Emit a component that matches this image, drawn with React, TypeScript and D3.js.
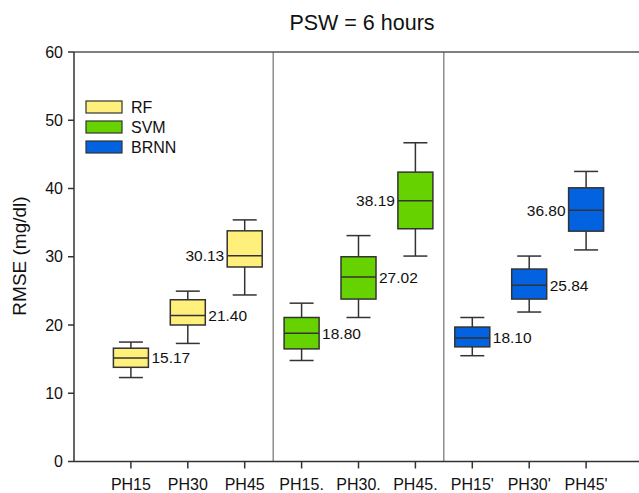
import React from "react";
import * as d3 from "d3";

const categories = ["PH15", "PH30", "PH45", "PH15.", "PH30.", "PH45.", "PH15'", "PH30'", "PH45'"];
const models = ["RF", "RF", "RF", "SVM", "SVM", "SVM", "BRNN", "BRNN", "BRNN"];
const whiskerLow = [12.3, 17.3, 24.4, 14.8, 21.1, 30.1, 15.5, 21.9, 31.0];
const q1 = [13.8, 20.0, 28.5, 16.5, 23.8, 34.1, 16.8, 23.8, 33.75];
const medians = [15.17, 21.4, 30.13, 18.8, 27.02, 38.19, 18.1, 25.84, 36.8];
const q3 = [16.6, 23.7, 33.8, 21.1, 30.0, 42.4, 19.7, 28.2, 40.1];
const whiskerHigh = [17.5, 24.96, 35.4, 23.2, 33.1, 46.7, 21.1, 30.1, 42.5];
const labelSide = ["right", "right", "left", "right", "right", "left", "right", "right", "left"];
const legendLabels = ["RF", "SVM", "BRNN"];
const yTicks = [0, 10, 20, 30, 40, 50, 60];

const colors: Record<string, string> = { RF: "#FFF07C", SVM: "#66D200", BRNN: "#0362DF" };

export default function App() {
  const W = 639, H = 493;
  const left = 74, top = 52, bottom = 461.5, right = 643;
  const x = d3.scaleLinear().domain([-1, 9]).range([left, right]);
  const y = d3.scaleLinear().domain([0, 60]).range([bottom, top]);
  const boxW = 35, capW = 24;
  const font = "Arial, 'Liberation Sans', sans-serif";
  const stroke = "#333";

  return (
    <svg width={W} height={H} style={{ position: "absolute", left: 0, top: 0, background: "#fff" }}>
      <text x={362} y={30} textAnchor="middle" fontFamily={font} fontSize={21.5} fill="#111">PSW = 6 hours</text>
      <text transform={`translate(26,256) rotate(-90)`} textAnchor="middle" fontFamily={font} fontSize={19} fill="#111">RMSE (mg/dl)</text>

      {[2.5, 5.5].map((d) => (
        <line key={d} x1={x(d)} x2={x(d)} y1={top} y2={bottom} stroke="#555" strokeWidth={1} />
      ))}

      <line x1={left} x2={W} y1={top} y2={top} stroke="#555" strokeWidth={1.5} />
      <line x1={left} x2={left} y1={top} y2={bottom} stroke="#333" strokeWidth={1.5} />
      <line x1={left} x2={W} y1={bottom} y2={bottom} stroke="#333" strokeWidth={1.5} />

      {yTicks.map((t) => (
        <g key={t}>
          <line x1={left - 6} x2={left} y1={y(t)} y2={y(t)} stroke="#333" strokeWidth={1.5} />
          <text x={left - 11} y={y(t) + 5.5} textAnchor="end" fontFamily={font} fontSize={16} fill="#111">{t}</text>
        </g>
      ))}

      {categories.map((c, i) => (
        <g key={c}>
          <line x1={x(i)} x2={x(i)} y1={bottom} y2={bottom + 7} stroke="#333" strokeWidth={1.5} />
          <text x={x(i)} y={490} textAnchor="middle" fontFamily={font} fontSize={16} fill="#111">{c}</text>
        </g>
      ))}

      {categories.map((c, i) => {
        const cx = x(i);
        const col = colors[models[i]];
        const lx = labelSide[i] === "right" ? cx + boxW / 2 + 3 : cx - boxW / 2 - 3;
        return (
          <g key={"b" + c}>
            <line x1={cx} x2={cx} y1={y(whiskerHigh[i])} y2={y(q3[i])} stroke={stroke} strokeWidth={1.5} />
            <line x1={cx} x2={cx} y1={y(q1[i])} y2={y(whiskerLow[i])} stroke={stroke} strokeWidth={1.5} />
            <line x1={cx - capW / 2} x2={cx + capW / 2} y1={y(whiskerHigh[i])} y2={y(whiskerHigh[i])} stroke={stroke} strokeWidth={1.5} />
            <line x1={cx - capW / 2} x2={cx + capW / 2} y1={y(whiskerLow[i])} y2={y(whiskerLow[i])} stroke={stroke} strokeWidth={1.5} />
            <rect x={cx - boxW / 2} y={y(q3[i])} width={boxW} height={y(q1[i]) - y(q3[i])} fill={col} stroke={stroke} strokeWidth={1.5} />
            <line x1={cx - boxW / 2} x2={cx + boxW / 2} y1={y(medians[i])} y2={y(medians[i])} stroke={stroke} strokeWidth={1.5} />
            <text x={lx} y={y(medians[i]) + 5.5} textAnchor={labelSide[i] === "right" ? "start" : "end"} fontFamily={font} fontSize={15.5} fill="#111">
              {medians[i].toFixed(2)}
            </text>
          </g>
        );
      })}

      {legendLabels.map((l, i) => (
        <g key={l}>
          <rect x={86} y={101 + i * 20} width={36} height={12} fill={colors[l]} stroke={stroke} strokeWidth={1.2} />
          <text x={131} y={113 + i * 20} fontFamily={font} fontSize={16} fill="#111">{l}</text>
        </g>
      ))}
    </svg>
  );
}
